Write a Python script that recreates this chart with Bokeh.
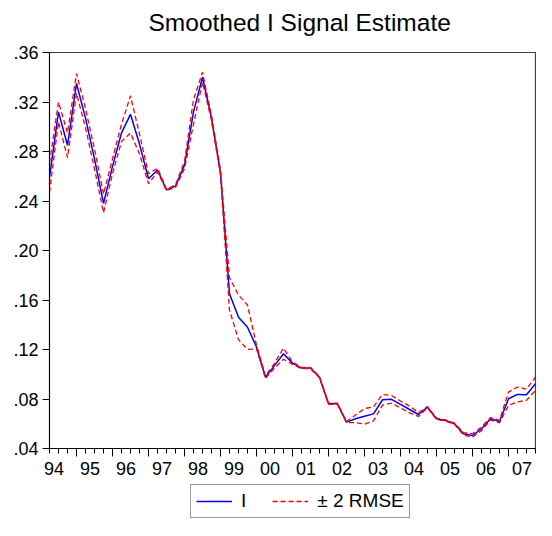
from bokeh.plotting import figure
from bokeh.layouts import column
from bokeh.models import (Range1d, FixedTicker, LinearAxis, Legend, LegendItem,
                          CustomJSTickFormatter, Title)
from bokeh.embed import file_html
from bokeh.resources import INLINE

# ---- data -------------------------------------------------------------
start_year, start_q, n_obs = 1994, 2, 55
periods = []
yy, qq = start_year, start_q
for _ in range(n_obs):
    periods.append((yy, qq))
    qq += 1
    if qq > 4:
        qq, yy = 1, yy + 1
x = [y + (q - 1) / 4 for (y, q) in periods]

signal = [
    0.259, 0.312, 0.285, 0.335, 0.307, 0.274, 0.238, 0.268, 0.295, 0.310,
    0.286, 0.258, 0.265, 0.249, 0.252, 0.269, 0.312, 0.340, 0.307, 0.263,
    0.165, 0.146, 0.138, 0.122, 0.0976, 0.107, 0.1166, 0.109, 0.105, 0.105,
    0.0976, 0.0761, 0.0761, 0.0613, 0.064, 0.066, 0.068, 0.0794, 0.0797, 0.0756,
    0.0715, 0.0675, 0.0734, 0.064, 0.0627, 0.060, 0.0519, 0.0505, 0.0559, 0.064,
    0.0618, 0.0802, 0.0837, 0.0834, 0.0923]

two_rmse = [
    0.012, 0.008, 0.010, 0.008, 0.0077, 0.008, 0.0075, 0.006, 0.007, 0.015,
    0.008, 0.004, 0.0015, 0.0005, 0.001, 0.003, 0.010, 0.004, 0.002, 0.002,
    0.013, 0.018, 0.018, 0.0015, 0.001, 0.002, 0.0045, 0.001, 0.0005, 0.0005,
    0.0005, 0.0005, 0.0005, 0.0005, 0.003, 0.0063, 0.0057, 0.0043, 0.0031, 0.0028,
    0.0027, 0.0016, 0.0005, 0.0005, 0.0005, 0.0005, 0.001, 0.0015, 0.0015, 0.001,
    0.001, 0.0054, 0.006, 0.0045, 0.0053]

upper = [s + b for s, b in zip(signal, two_rmse)]
lower = [s - b for s, b in zip(signal, two_rmse)]

y_ticks = [0.04, 0.08, 0.12, 0.16, 0.20, 0.24, 0.28, 0.32, 0.36]
y_tick_labels = [".04", ".08", ".12", ".16", ".20", ".24", ".28", ".32", ".36"]
years = list(range(1994, 2008))
year_labels = ["94", "95", "96", "97", "98", "99", "00", "01", "02", "03",
               "04", "05", "06", "07"]
series_labels = ["I", "± 2 RMSE"]
title_text = "Smoothed I Signal Estimate"

FONT = "Liberation Sans"
BLUE, RED = "#0000FF", "#FF0000"

year_starts = [float(y) for y in years if x[0] <= y <= x[-1]]
quarter_ticks = [v for v in x if v not in year_starts]

# ---- main figure ------------------------------------------------------
p = figure(width=536, height=483, output_backend="svg", toolbar_location=None,
           x_range=Range1d(x[0], x[-1]), y_range=Range1d(0.04, 0.36),
           x_axis_location=None, y_axis_location="left",
           min_border_left=49, min_border_right=1, min_border_top=52,
           min_border_bottom=35, background_fill_color="white",
           border_fill_color="white")
p.title_location = None
p.grid.visible = False
p.outline_line_color = "#404040"
p.outline_line_width = 1.2

# invisible spacer axis between frame and title, then the title itself
spacer = LinearAxis(ticker=FixedTicker(ticks=year_starts[:1], minor_ticks=[]),
                    formatter=CustomJSTickFormatter(code="return ''"))
spacer.axis_line_color = None
spacer.major_tick_line_color = None
spacer.minor_tick_line_color = None
spacer.major_tick_in = 0
spacer.major_tick_out = 16
spacer.minor_tick_out = 0
spacer.major_label_standoff = 0
spacer.major_label_text_font_size = "1px"
p.add_layout(spacer, "above")

title = Title(text=title_text, align="left", offset=99, vertical_align="bottom",
              text_font=FONT, text_font_size="24.5px", text_font_style="normal",
              text_color="black", standoff=2)
p.add_layout(title, "above")

# y axis
ya = p.yaxis[0]
ya.ticker = FixedTicker(ticks=y_ticks)
ya.major_label_overrides = dict(zip(y_ticks, y_tick_labels))
ya.major_tick_out = 7
ya.major_tick_in = 0
ya.minor_tick_line_color = None
ya.major_label_standoff = 4
ya.major_label_text_font = FONT
ya.major_label_text_font_size = "18px"
ya.major_label_text_color = "black"
ya.axis_line_color = "black"
ya.major_tick_line_color = "black"

# x axis: ticks only
xa_ticks = LinearAxis(ticker=FixedTicker(ticks=year_starts, minor_ticks=quarter_ticks),
                      formatter=CustomJSTickFormatter(code="return ''"))
xa_ticks.major_tick_out = 8
xa_ticks.major_tick_in = 0
xa_ticks.minor_tick_out = 5
xa_ticks.minor_tick_in = 0
xa_ticks.major_label_standoff = 0
xa_ticks.major_label_text_font_size = "1px"
xa_ticks.axis_line_color = "black"
xa_ticks.major_tick_line_color = "black"
xa_ticks.minor_tick_line_color = "black"
p.add_layout(xa_ticks, "below")

# x axis: year labels, placed just after each year's first tick
label_pos = [y + 0.377 for y in years]
xa_labels = LinearAxis(ticker=FixedTicker(ticks=label_pos, minor_ticks=[]))
xa_labels.major_label_overrides = dict(zip(label_pos, year_labels))
xa_labels.axis_line_color = None
xa_labels.major_tick_line_color = None
xa_labels.minor_tick_line_color = None
xa_labels.major_tick_out = 0
xa_labels.major_tick_in = 0
xa_labels.major_label_standoff = 5
xa_labels.major_label_text_font = FONT
xa_labels.major_label_text_font_size = "18px"
xa_labels.major_label_text_color = "black"
p.add_layout(xa_labels, "below")

# ---- lines ------------------------------------------------------------
p.line(x, signal, line_color=BLUE, line_width=1.5)
p.line(x, upper, line_color=RED, line_width=1.3, line_dash="5 3")
p.line(x, lower, line_color=RED, line_width=1.3, line_dash="5 3")

# ---- legend strip (same series, drawn out of view; only the key shows) --
q = figure(width=536, height=37, output_backend="svg", toolbar_location=None,
           x_range=Range1d(0, 1), y_range=Range1d(0, 1),
           x_axis_location=None, y_axis_location=None,
           min_border_left=49, min_border_right=1, min_border_top=0,
           min_border_bottom=0, outline_line_color=None,
           background_fill_color="white", border_fill_color="white")
q.grid.visible = False
l_sig = q.line(x, signal, line_color=BLUE, line_width=1.5)
l_band = q.line(x, upper, line_color=RED, line_width=1.3, line_dash="5 3")

legend = Legend(items=[LegendItem(label=series_labels[0], renderers=[l_sig]),
                       LegendItem(label=series_labels[1], renderers=[l_band])],
                orientation="horizontal", location=(141, 2))
legend.label_text_font = FONT
legend.label_text_font_size = "19px"
legend.label_text_color = "black"
legend.glyph_width = 36
legend.glyph_height = 18
legend.label_standoff = 9
legend.label_width = 0
legend.spacing = 26
legend.padding = 5
legend.margin = 0
legend.border_line_color = "#333333"
legend.border_line_width = 1
legend.background_fill_color = "white"
legend.background_fill_alpha = 1
q.add_layout(legend, "center")

layout = column(p, q, spacing=0)
open("out.html", "w").write(file_html(layout, INLINE))
